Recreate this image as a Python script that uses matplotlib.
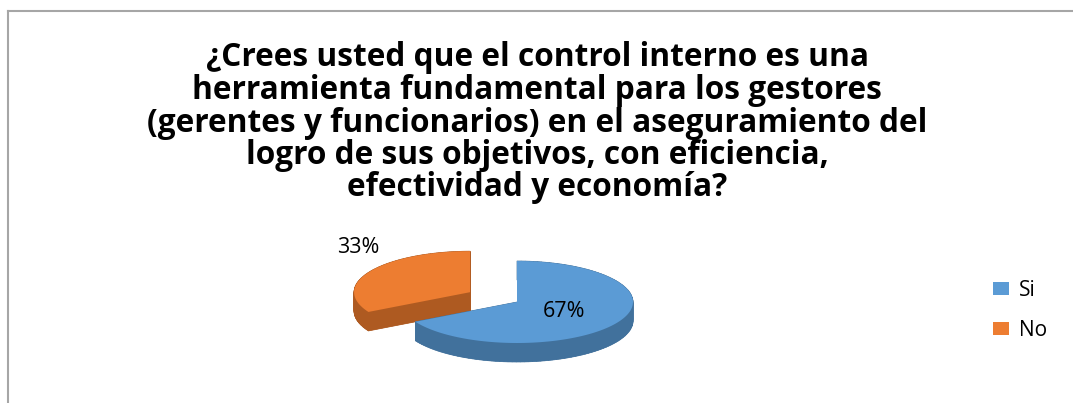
import numpy as np
import matplotlib
matplotlib.use('Agg')
import matplotlib.pyplot as plt
from matplotlib.patches import Polygon, Patch

# data
labels = ['Si', 'No']
values = [67, 33]
explode = [0.0, 0.47]
top_colors = ['#5B9BD5', '#ED7D31']
side_colors = ['#41719C', '#AE5A21']
title = ('¿Crees usted que el control interno es una\n'
         'herramienta fundamental para los gestores\n'
         '(gerentes y funcionarios) en el aseguramiento del\n'
         'logro de sus objetivos, con eficiencia,\n'
         'efectividad y economía?')

plt.rcParams['font.family'] = ['Open Sans', 'DejaVu Sans']

W, H = 1073, 403
fig = plt.figure(figsize=(W / 100, H / 100), dpi=100)
ax = fig.add_axes([0, 0, 1, 1])
ax.set_xlim(0, W)
ax.set_ylim(H, 0)
ax.axis('off')

# chart frame (only top and left show in the crop)
ax.plot([8, 8], [11, H], color='#a6a6a6', lw=1.5)
ax.plot([8, W], [11, 11], color='#a6a6a6', lw=1.5)

ax.text(537, 123, title, ha='center', va='center', fontsize=22.8,
        fontweight='bold', linespacing=0.98)

# 3d-ish pie
cx, cy = 517, 302
rx, ry = 116, 41
depth = 19
total = float(sum(values))
start = 90.0


def extrude(ax, pts, color, z):
    # bottom copy plus the band joining each edge
    bot = pts + np.array([0, depth])
    ax.add_patch(Polygon(bot, closed=True, fc=color, ec='none', zorder=z))
    n = len(pts)
    for i in range(n):
        a, b = pts[i], pts[(i + 1) % n]
        quad = [a, b, b + [0, depth], a + [0, depth]]
        ax.add_patch(Polygon(quad, closed=True, fc=color, ec=color, lw=0.5, zorder=z))


angle = start
wedges = []
for lab, v, ex, tc, sc in zip(labels, values, explode, top_colors, side_colors):
    sweep = 360.0 * v / total
    t0, t1 = angle, angle - sweep
    mid = np.radians((t0 + t1) / 2)
    ox = cx + ex * rx * np.cos(mid)
    oy = cy - ex * ry * np.sin(mid)
    t = np.radians(np.linspace(t0, t1, 120))
    arc = np.column_stack([ox + rx * np.cos(t), oy - ry * np.sin(t)])
    pts = np.vstack([[ox, oy], arc])
    wedges.append((lab, v, pts, tc, sc, ox, oy, mid, ex))
    angle = t1

# draw back (exploded) slice first
for z, w in enumerate(sorted(wedges, key=lambda w: -w[8])):
    lab, v, pts, tc, sc, ox, oy, mid, ex = w
    extrude(ax, pts, sc, 2 + 2 * z)
    ax.add_patch(Polygon(pts, closed=True, fc=tc, ec='none', zorder=3 + 2 * z))

for lab, v, pts, tc, sc, ox, oy, mid, ex in wedges:
    txt = '%d%%' % round(100 * v / total)
    if ex > 0:
        lx = ox + 1.12 * rx * np.cos(mid)
        ly = oy - 1.12 * ry * np.sin(mid) - 21
    else:
        lx = ox + 0.47 * rx * np.cos(mid)
        ly = oy - 0.47 * ry * np.sin(mid)
    ax.text(lx, ly, txt, ha='center', va='center', fontsize=15.5, zorder=10)

handles = [Patch(fc=c, ec='none') for c in top_colors]
ax.legend(handles, labels, loc='upper left', bbox_to_anchor=(993 / W, 1 - 280 / H),
          frameon=False, fontsize=15, handlelength=0.75, handleheight=0.6,
          handletextpad=0.5, labelspacing=0.9, borderaxespad=0, borderpad=0)

fig.savefig('out.png', dpi=100)
